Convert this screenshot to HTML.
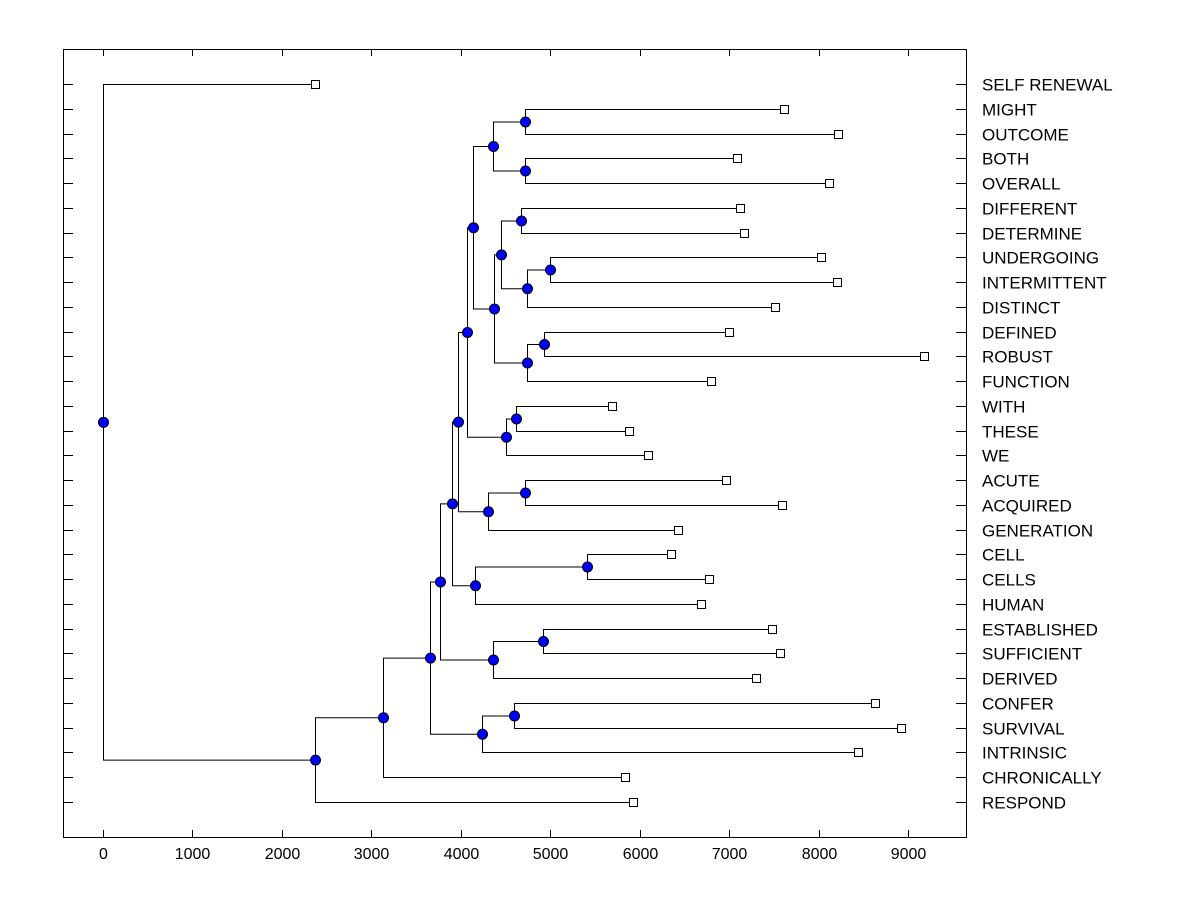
<!DOCTYPE html>
<html><head><meta charset="utf-8"><style>
body{margin:0;background:#fff;}
svg{display:block;font-family:"Liberation Sans",Arial,sans-serif;}
</style></head><body>
<svg id="chart" width="1200" height="900"></svg>
<script>
const labels=["SELF RENEWAL","MIGHT","OUTCOME","BOTH","OVERALL","DIFFERENT","DETERMINE","UNDERGOING","INTERMITTENT","DISTINCT","DEFINED","ROBUST","FUNCTION","WITH","THESE","WE","ACUTE","ACQUIRED","GENERATION","CELL","CELLS","HUMAN","ESTABLISHED","SUFFICIENT","DERIVED","CONFER","SURVIVAL","INTRINSIC","CHRONICALLY","RESPOND"];
const leafValues=[2370,7614,8218,7089,8117,7122,7167,8028,8207,7513,7000,9180,6798,5691,5881,6093,6966,7592,6429,6351,6776,6686,7480,7569,7301,8631,8922,8441,5836,5926];
const xTicks=[0,1000,2000,3000,4000,5000,6000,7000,8000,9000];
// merges: [height, childA, childB]; children are leaf indices (number) or merge ids ("m#")
const merges=[
 [4718,1,2],[4718,3,4],[4360,"m0","m1"],
 [4674,5,6],[4998,7,8],[4740,"m4",9],[4450,"m3","m5"],
 [4931,10,11],[4740,"m7",12],[4371,"m6","m8"],
 [4137,"m2","m9"],
 [4618,13,14],[4506,"m11",15],[4070,"m10","m12"],
 [4718,16,17],[4305,"m14",18],[3970,"m13","m15"],
 [5411,19,20],[4159,"m17",21],[3902,"m16","m18"],
 [4919,22,23],[4360,"m20",24],[3768,"m19","m21"],
 [4595,25,26],[4237,"m23",27],[3656,"m22","m24"],
 [3131,"m25",28],[2370,"m26",29],[0,0,"m27"]
];
const svg=document.getElementById('chart');
const NS='http://www.w3.org/2000/svg';
const L=63,R=966,T=49,B=837;
const xs=v=>Math.round(103+v*(805/9000))+0.5;
const ys=i=>Math.round(84+i*(718/29))+0.5;
function mk(tag,attrs,name,parent){const e=document.createElementNS(NS,tag);for(const k in attrs)e.setAttribute(k,attrs[k]);


(parent||svg).appendChild(e);return e;}
mk('rect',{x:L+0.5,y:T+0.5,width:R-L,height:B-T,fill:'none',stroke:'#000','stroke-width':1},'plot-frame');
xTicks.forEach(t=>{const x=xs(t);
 mk('line',{x1:x,x2:x,y1:B,y2:B-7,stroke:'#000'},'x-tick');
 mk('line',{x1:x,x2:x,y1:T,y2:T+7,stroke:'#000'},'x-tick-top');
 const tx=mk('text',{x:x,y:859,'text-anchor':'middle','font-size':16},'x-tick-label');tx.textContent=t;});
labels.forEach((lb,i)=>{const y=ys(i);
 mk('line',{x1:L,x2:L+10,y1:y,y2:y,stroke:'#000'},'y-tick');
 mk('line',{x1:R-10,x2:R,y1:y,y2:y,stroke:'#000'},'y-tick-right');
 const tx=mk('text',{x:982,y:y+6,'font-size':17},'leaf-label');tx.textContent=lb;});
const pos={};
function get(c){if(typeof c==='number')return {x:xs(leafValues[c]),y:ys(c)};return pos[c];}
const lines=mk('g',{},'dendrogram-links');
merges.forEach((m,i)=>{const a=get(m[1]),b=get(m[2]);const x=xs(m[0]);
 pos['m'+i]={x:x,y:(a.y+b.y)/2};
 const p=`M${a.x},${a.y}H${x}V${b.y}H${b.x}`;
 mk('path',{d:p,fill:'none',stroke:'#000','stroke-width':1},'link',lines);});
leafValues.forEach((v,i)=>{mk('rect',{x:xs(v)-4,y:ys(i)-4,width:8,height:8,fill:'#fff',stroke:'#000'},'leaf-marker');});
merges.forEach((m,i)=>{const p=pos['m'+i];mk('circle',{cx:p.x,cy:p.y,r:5,fill:'#0000ff',stroke:'#000'},'node-marker');});
</script>
</body></html>
